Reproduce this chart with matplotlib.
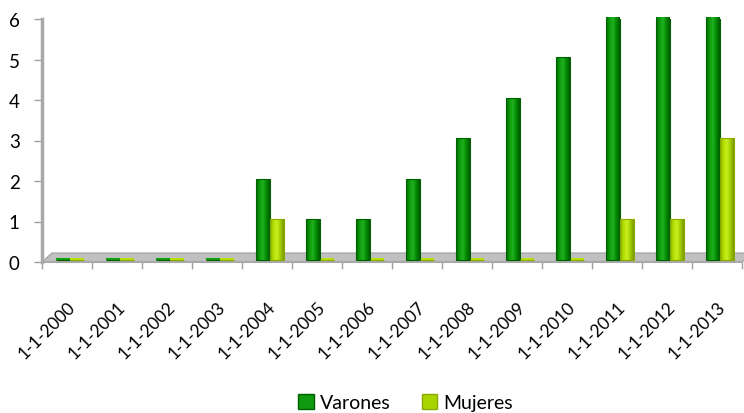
import matplotlib
matplotlib.use("Agg")
import matplotlib.pyplot as plt
import numpy as np
from matplotlib.colors import LinearSegmentedColormap
from matplotlib.patches import Polygon, Rectangle

categories = ["1-1-2000", "1-1-2001", "1-1-2002", "1-1-2003", "1-1-2004", "1-1-2005",
              "1-1-2006", "1-1-2007", "1-1-2008", "1-1-2009", "1-1-2010", "1-1-2011",
              "1-1-2012", "1-1-2013"]
varones = [0, 0, 0, 0, 2, 1, 1, 2, 3, 4, 5, 6, 6, 6]
mujeres = [0, 0, 0, 0, 1, 0, 0, 0, 0, 0, 0, 1, 1, 3]
series_names = ["Varones", "Mujeres"]
yticks = [0, 1, 2, 3, 4, 5, 6]

plt.rcParams['font.family'] = ['Lato', 'DejaVu Sans']

fig = plt.figure(figsize=(7.44, 4.14), dpi=100)
ax = fig.add_axes([42/744, 1-263/414, 700/744, 243/414])

cmap_v = LinearSegmentedColormap.from_list("v", ["#006a00", "#0a9a0a", "#20b020", "#008a00", "#005800"])
cmap_m = LinearSegmentedColormap.from_list("m", ["#88b000", "#b4e000", "#c8ee20", "#a0cc00", "#7a9a00"])

x = np.arange(len(categories))
w = 0.28
off = 0.06
grad = np.linspace(0, 1, 64).reshape(1, -1)

# floor
floor = Polygon([[-0.5, 0], [13.5, 0], [13.5 + 0.2, 0.22], [-0.5 + 0.2, 0.22]], closed=True,
                facecolor="#c0c0c0", edgecolor="#a8a8a8", lw=1, zorder=1, clip_on=False)
ax.add_patch(floor)

for vals, cmap, edge, dx in [(varones, cmap_v, "#006000", off - w/2), (mujeres, cmap_m, "#8aaa00", off + w/2)]:
    bars = ax.bar(x + dx, vals, width=w, bottom=0.06, color="none", edgecolor=edge, lw=0.8, zorder=3)
    for b, v in zip(bars, vals):
        x0 = b.get_x()
        if v > 0:
            im = ax.imshow(grad, cmap=cmap, aspect="auto", extent=[x0, x0 + w, 0.06, 0.06 + v], zorder=2.5)
            im.set_clip_path(b)
        else:
            ax.add_patch(Rectangle((x0, 0.04), w, 0.06, facecolor=cmap(0.3), edgecolor="none", zorder=2.5))

ax.set_xlim(-0.5, 13.5)
ax.set_ylim(0, 6)
ax.set_yticks(yticks)
ax.set_yticklabels([str(t) for t in yticks], fontsize=13.5)
ax.set_xticks(x)
ax.set_xticklabels(categories, rotation=45, ha="right", rotation_mode="anchor", fontsize=12.5)
ax.set_xticks(np.arange(-0.5, 13.6, 1), minor=True)
ax.tick_params(axis="x", which="major", length=0, pad=26)
ax.tick_params(axis="x", which="minor", length=5, color="#a0a0a0", width=1)
ax.tick_params(axis="y", length=6, color="#a0a0a0", width=1, pad=10)
for s in ["top", "right"]:
    ax.spines[s].set_visible(False)
ax.spines["left"].set_color("#a8a8a8")
ax.spines["left"].set_linewidth(2.5)
ax.spines["bottom"].set_color("#a8a8a8")
ax.spines["bottom"].set_linewidth(1.5)

handles = [Rectangle((0, 0), 1, 1, facecolor="#109a10", edgecolor="#006000"),
           Rectangle((0, 0), 1, 1, facecolor="#a8d400", edgecolor="#8aaa00")]
fig.legend(handles, series_names, loc="lower center", bbox_to_anchor=(0.545, -0.038), ncol=2,
           frameon=False, fontsize=14, handlelength=0.8, handleheight=0.8, handletextpad=0.3,
           columnspacing=1.6)

fig.savefig("out.png", dpi=100)
